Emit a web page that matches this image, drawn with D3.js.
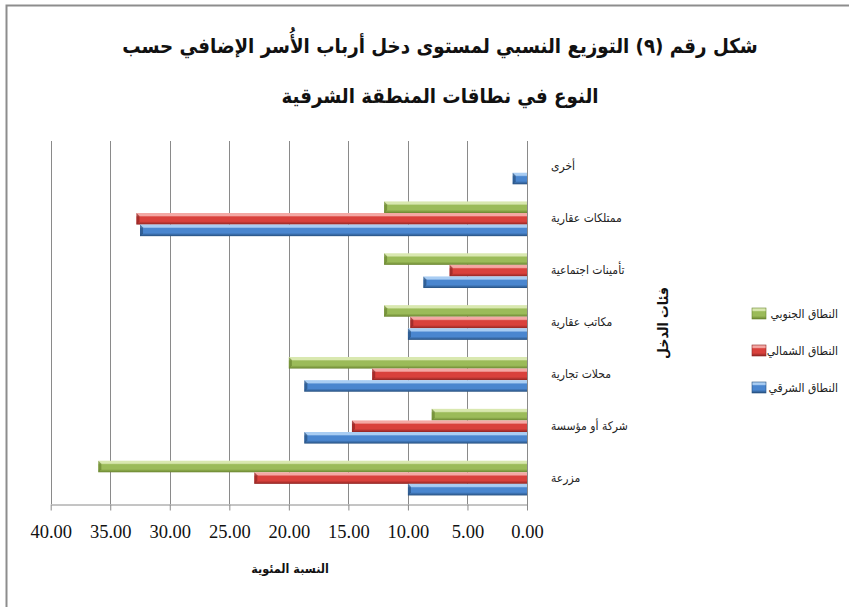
<!DOCTYPE html>
<html lang="ar">
<head>
<meta charset="utf-8">
<script src="https://cdn.jsdelivr.net/npm/d3@7"></script>
<style>
  html, body { margin: 0; padding: 0; background: #fff; }
  svg { display: block; }
</style>
</head>
<body>
<svg id="chart" width="849" height="607"></svg>
<script>
// Income categories, listed from the bottom of the chart to the top
const categories = ["مزرعة", "شركة أو مؤسسة", "محلات تجارية", "مكاتب عقارية", "تأمينات اجتماعية", "ممتلكات عقارية", "أخرى"];

// Percentage of household heads per income category, by zone
const eastValues  = [10.0, 18.7, 18.7, 10.0, 8.7, 32.5, 1.2];   // النطاق الشرقي
const northValues = [22.9, 14.7, 13.0, 9.8, 6.5, 32.8, 0];      // النطاق الشمالي
const southValues = [36.0, 8.0, 20.0, 12.0, 12.0, 12.0, 0];     // النطاق الجنوبي

const seriesNames = ["النطاق الجنوبي", "النطاق الشمالي", "النطاق الشرقي"];
const tickValues = [0, 5, 10, 15, 20, 25, 30, 35, 40];

const titleLines = ["شكل رقم (٩) التوزيع النسبي لمستوى دخل أرباب الأُسر الإضافي حسب", "النوع في نطاقات المنطقة الشرقية"];
const xTitle = "النسبة المئوية";
const yTitle = "فئات الدخل";

const series = [
  { key: "south", name: seriesNames[0], values: southValues, base: "#9bbb59", light: "#d9e8b0", dark: "#6a8530" },
  { key: "north", name: seriesNames[1], values: northValues, base: "#d9413c", light: "#f4a8a4", dark: "#8f2523" },
  { key: "east",  name: seriesNames[2], values: eastValues,  base: "#4a86cf", light: "#a9cdf3", dark: "#27507f" }
];

const arabicFont = "'DejaVu Sans Condensed', 'DejaVu Sans', sans-serif";
const numFont = "'Liberation Serif', 'Times New Roman', 'DejaVu Serif', serif";

const svg = d3.select("#chart");

// Outer frame (left and top edges)
svg.append("path")
  .attr("d", "M6.5,607 L6.5,5.5 L849,5.5")
  .attr("fill", "none").attr("stroke", "#8d8d8d").attr("stroke-width", 2);

// Gradients giving each bar its bevelled look
const defs = svg.append("defs");
series.forEach(s => {
  const g = defs.append("linearGradient").attr("id", "grad-" + s.key)
    .attr("x1", 0).attr("y1", 0).attr("x2", 0).attr("y2", 1);
  g.append("stop").attr("offset", "0").attr("stop-color", s.light);
  g.append("stop").attr("offset", "0.22").attr("stop-color", s.light);
  g.append("stop").attr("offset", "0.34").attr("stop-color", s.base);
  g.append("stop").attr("offset", "0.72").attr("stop-color", s.base);
  g.append("stop").attr("offset", "1").attr("stop-color", s.dark);
});

// Scales: values grow leftwards from the zero line on the right
const x = d3.scaleLinear().domain([0, 40]).range([527, 50.7]);
const order = categories.slice().reverse();
const y = d3.scaleBand().domain(order).range([141, 504]).paddingInner(0.33).paddingOuter(0.165);
const ySub = d3.scaleBand().domain(series.map(s => s.key)).range([0, y.bandwidth()]);

// Vertical gridlines
svg.append("g").selectAll("line").data(tickValues).join("line")
  .attr("x1", d => Math.round(x(d)) + 0.5).attr("x2", d => Math.round(x(d)) + 0.5)
  .attr("y1", 141).attr("y2", 504)
  .attr("stroke", "#8a8a8a").attr("stroke-width", 1);

// Value axis along the bottom
const xAxis = d3.axisBottom(x).tickValues(tickValues).tickFormat(d3.format(".2f")).tickSize(6).tickSizeOuter(0).tickPadding(14);
const gx = svg.append("g").attr("transform", "translate(0,504.5)").call(xAxis);
gx.attr("font-family", null).attr("font-size", null);
gx.select(".domain").attr("stroke", "#8a8a8a");
gx.selectAll(".tick line").attr("stroke", "#8a8a8a");
gx.selectAll(".tick text")
  .style("font-family", numFont).style("font-size", "18.5px").attr("fill", "#111");

// Category axis line at zero
svg.append("line")
  .attr("x1", Math.round(x(0)) + 0.5).attr("x2", Math.round(x(0)) + 0.5)
  .attr("y1", 141).attr("y2", 510)
  .attr("stroke", "#8a8a8a");

// Bars
const groups = svg.append("g").selectAll("g").data(categories).join("g")
  .attr("transform", d => `translate(0,${y(d)})`);

series.forEach(s => {
  const h = ySub.bandwidth();
  const bars = groups.filter((d, i) => s.values[i] > 0);
  bars.append("rect")
    .attr("x", d => x(s.values[categories.indexOf(d)]))
    .attr("y", ySub(s.key))
    .attr("width", d => x(0) - x(s.values[categories.indexOf(d)]))
    .attr("height", h)
    .attr("fill", `url(#grad-${s.key})`);
  // darker bevel at the bar's free end
  bars.append("path")
    .attr("d", d => {
      const x0 = x(s.values[categories.indexOf(d)]);
      const y0 = ySub(s.key);
      return `M${x0},${y0} L${x0 + 3},${y0 + 3} L${x0 + 3},${y0 + h - 3} L${x0},${y0 + h} Z`;
    })
    .attr("fill", s.dark).attr("opacity", 0.7);
});

// Category labels
svg.append("g").selectAll("text").data(categories).join("text")
  .attr("x", 551).attr("y", d => y(d) + y.bandwidth() / 2)
  .attr("dominant-baseline", "middle")
  .attr("text-anchor", "start")
  .style("font-family", arabicFont).style("font-size", "12px").attr("fill", "#222")
  .text(d => d);

// Chart title
svg.append("g").selectAll("text").data(titleLines).join("text")
  .attr("x", 440).attr("y", (d, i) => 53 + i * 50)
  .attr("text-anchor", "middle")
  .style("font-family", arabicFont).style("font-weight", "bold").style("font-size", "20.3px").attr("fill", "#111")
  .text(d => d);

// Axis titles
svg.append("text")
  .attr("x", 290).attr("y", 573).attr("text-anchor", "middle")
  .style("font-family", arabicFont).style("font-weight", "bold").style("font-size", "12.5px").attr("fill", "#111")
  .text(xTitle);

svg.append("text")
  .attr("transform", "translate(668,323) rotate(-90)").attr("text-anchor", "middle")
  .style("font-family", arabicFont).style("font-weight", "bold").style("font-size", "14px").attr("fill", "#111")
  .text(yTitle);

// Legend
const legend = svg.append("g").selectAll("g").data(series).join("g")
  .attr("transform", (d, i) => `translate(0,${314 + i * 37})`);
legend.append("rect")
  .attr("x", 752).attr("y", -6).attr("width", 14).attr("height", 11)
  .attr("fill", d => `url(#grad-${d.key})`).attr("stroke", d => d.dark).attr("stroke-width", 0.6);
legend.append("text")
  .attr("x", 838).attr("y", 0).attr("dominant-baseline", "middle").attr("text-anchor", "end")
  .style("font-family", arabicFont).style("font-size", "12px").attr("fill", "#222")
  .text(d => d.name);
</script>
</body>
</html>
